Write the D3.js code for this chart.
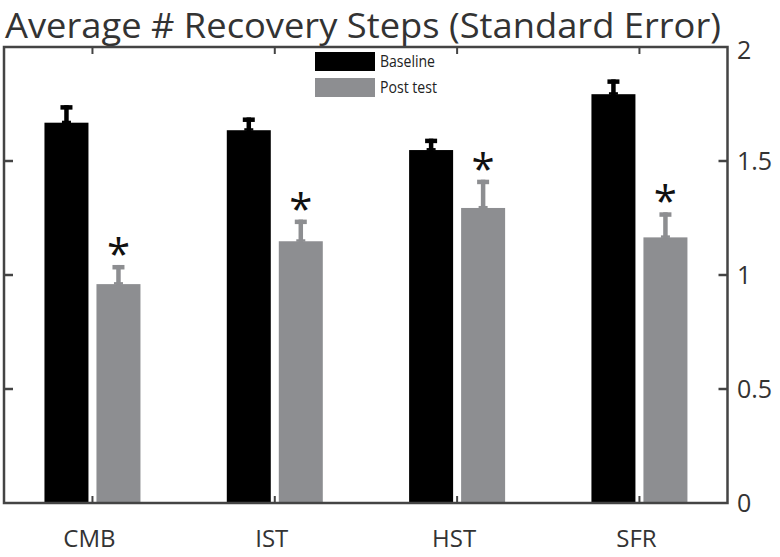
<!DOCTYPE html>
<html><head><meta charset="utf-8">
<script src="https://cdn.jsdelivr.net/npm/d3@7"></script>
<style>body{margin:0;background:#fff}svg{display:block}</style>
</head><body>
<svg id="chart" width="780" height="557"></svg>
<script>
const categories = ["CMB", "IST", "HST", "SFR"];
const seriesNames = ["Baseline", "Post test"];
const baseline = [1.668, 1.635, 1.548, 1.793];
const baselineSE = [0.077, 0.056, 0.050, 0.065];
const postTest = [0.960, 1.148, 1.294, 1.165];
const postTestSE = [0.084, 0.095, 0.124, 0.110];
const significant = [true, true, true, true];
const yTicks = [0, 0.5, 1, 1.5, 2];
const title = "Average # Recovery Steps (Standard Error)";

const colors = {"Baseline": "#000000", "Post test": "#8d8e91"};
const frameColor = "#444444";
const font = "'Open Sans', sans-serif";

const svg = d3.select("#chart");
const L = 4, R = 727.5, T = 47, B = 503;

const y = d3.scaleLinear().domain([0, 2]).range([B, T]);
const x0 = d3.scaleBand().domain(categories).range([1.3, 730.6]);
const innerW = 96;
const x1 = d3.scaleBand().domain(seriesNames)
  .range([(x0.bandwidth() - innerW) / 2, (x0.bandwidth() + innerW) / 2])
  .paddingInner(8 / 52);

const rows = [];
categories.forEach((c, i) => {
  rows.push({cat: c, s: "Baseline", v: baseline[i], se: baselineSE[i], sig: false});
  rows.push({cat: c, s: "Post test", v: postTest[i], se: postTestSE[i], sig: significant[i]});
});

// title
svg.append("text")
  .attr("x", 5).attr("y", 38)
  .attr("font-family", font).attr("font-size", 35)
  .attr("fill", "#333")
  .attr("textLength", 716).attr("lengthAdjust", "spacingAndGlyphs")
  .text(title);

// bars
const g = svg.append("g");
g.selectAll("rect.bar").data(rows).join("rect")
  .attr("class", "bar")
  .attr("x", d => x0(d.cat) + x1(d.s))
  .attr("width", x1.bandwidth())
  .attr("y", d => y(d.v))
  .attr("height", d => y(0) - y(d.v))
  .attr("fill", d => colors[d.s]);

// error bars (upper only)
const cx = d => x0(d.cat) + x1(d.s) + x1.bandwidth() / 2;
g.selectAll("line.err").data(rows).join("line")
  .attr("x1", cx).attr("x2", cx)
  .attr("y1", d => y(d.v) + 1).attr("y2", d => y(d.v + d.se))
  .attr("stroke", d => colors[d.s]).attr("stroke-width", 4.5);
g.selectAll("rect.cap").data(rows).join("rect")
  .attr("x", d => cx(d) - 6).attr("width", 12)
  .attr("y", d => y(d.v + d.se)).attr("height", 4.5)
  .attr("fill", d => colors[d.s]);
g.selectAll("rect.base").data(rows).join("rect")
  .attr("x", d => cx(d) - 4.5).attr("width", 9)
  .attr("y", d => y(d.v) - 2).attr("height", 2.5)
  .attr("fill", d => colors[d.s]);

// significance asterisks
g.selectAll("text.sig").data(rows.filter(d => d.sig)).join("text")
  .attr("class", "sig")
  .attr("x", cx)
  .attr("y", d => y(d.v + d.se) - 25)
  .attr("text-anchor", "middle")
  .attr("dominant-baseline", "central")
  .attr("font-family", font).attr("font-size", 42)
  .attr("fill", "#111")
  .attr("dy", "0.3em")
  .text("*");

// frame
svg.append("rect")
  .attr("x", L).attr("y", T).attr("width", R - L).attr("height", B - T)
  .attr("fill", "none").attr("stroke", frameColor).attr("stroke-width", 2.5);

// y ticks (both sides, inward) + right labels
const inner = yTicks.filter(t => t > 0 && t < 2);
svg.append("g").selectAll("line").data(inner).join("line")
  .attr("x1", R - 9).attr("x2", R).attr("y1", d => y(d)).attr("y2", d => y(d))
  .attr("stroke", frameColor).attr("stroke-width", 2.5);
svg.append("g").selectAll("line").data(inner).join("line")
  .attr("x1", L).attr("x2", L + 9).attr("y1", d => y(d)).attr("y2", d => y(d))
  .attr("stroke", frameColor).attr("stroke-width", 2.5);
svg.append("g").selectAll("text").data(yTicks).join("text")
  .attr("x", 737).attr("y", d => y(d) + (d === 2 ? 3 : 0))
  .attr("dy", "0.36em")
  .attr("font-family", font).attr("font-size", 25)
  .attr("fill", "#333")
  .text(d => d3.format("")(d));

// x ticks top and bottom
svg.append("g").selectAll("line").data(categories).join("line")
  .attr("x1", c => x0(c) + x0.bandwidth() / 2).attr("x2", c => x0(c) + x0.bandwidth() / 2)
  .attr("y1", B).attr("y2", B - 7)
  .attr("stroke", frameColor).attr("stroke-width", 2);
svg.append("g").selectAll("line").data(categories).join("line")
  .attr("x1", c => x0(c) + x0.bandwidth() / 2).attr("x2", c => x0(c) + x0.bandwidth() / 2)
  .attr("y1", T).attr("y2", T + 7)
  .attr("stroke", frameColor).attr("stroke-width", 2);

// x labels
svg.append("g").selectAll("text").data(categories).join("text")
  .attr("x", c => x0(c) + x0.bandwidth() / 2 - 3)
  .attr("y", 547)
  .attr("text-anchor", "middle")
  .attr("font-family", font).attr("font-size", 24)
  .attr("fill", "#333")
  .text(c => c);

// legend
const lg = svg.append("g").attr("transform", "translate(315,52)");
const li = lg.selectAll("g").data(seriesNames).join("g")
  .attr("transform", (d, i) => `translate(0,${i * 26})`);
li.append("rect").attr("width", 60).attr("height", 19).attr("fill", d => colors[d]);
li.append("text").attr("x", 65).attr("y", 15)
  .attr("font-family", font).attr("font-size", 16)
  .attr("fill", "#222")
  .attr("textLength", d => d === "Baseline" ? 55 : 57)
  .attr("lengthAdjust", "spacingAndGlyphs")
  .text(d => d);
</script>
</body></html>
